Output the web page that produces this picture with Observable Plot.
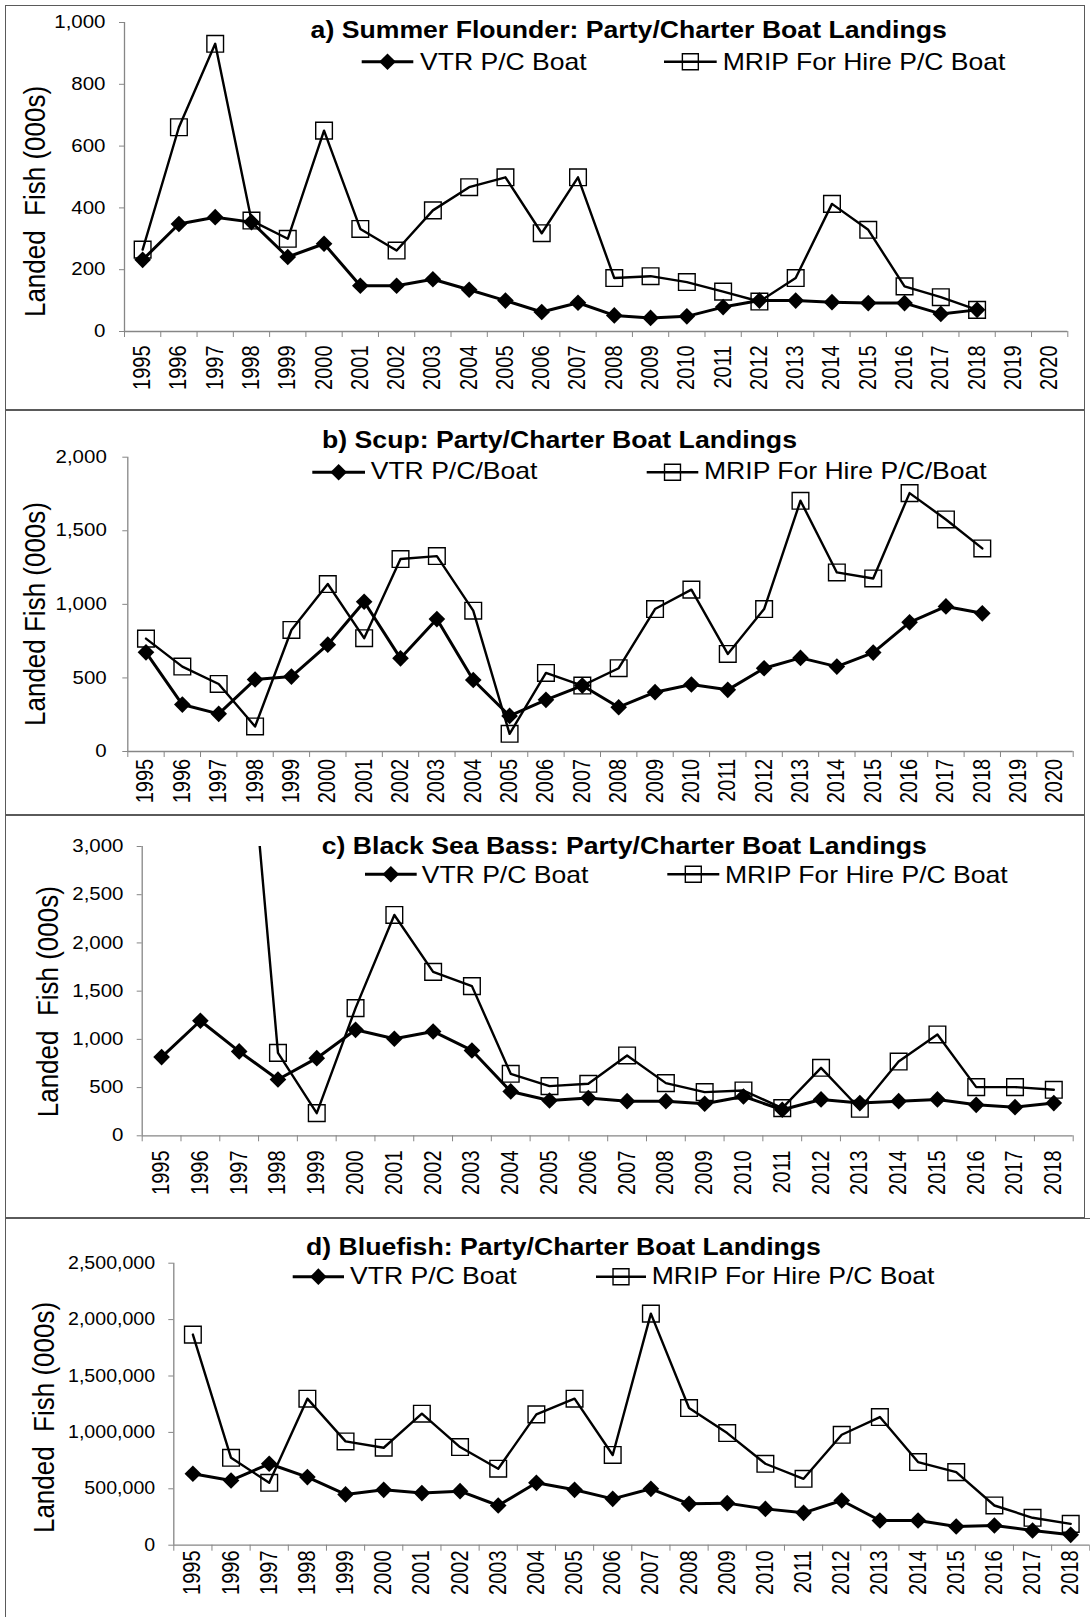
<!DOCTYPE html>
<html>
<head>
<meta charset="utf-8">
<script src="https://cdn.jsdelivr.net/npm/d3@7"></script>
<script src="https://cdn.jsdelivr.net/npm/@observablehq/plot@0.6"></script>
<style>
  body { margin: 0; background: #fff; }
  #root { position: relative; width: 1090px; height: 1617px; overflow: hidden; background: #fff; }
  .box { position: absolute; border: 1.5px solid #5a5a5a; box-sizing: border-box; }
  .pl { position: absolute; left: 0; }
  .pl svg { display: block; }
</style>
</head>
<body>
<div id="root"></div>
<script>
const FONT = "'Liberation Sans', Arial, Helvetica, sans-serif";
const AX = "#868686";

// ---- categories ----
const yearsAB = [1995,1996,1997,1998,1999,2000,2001,2002,2003,2004,2005,2006,2007,2008,2009,2010,2011,2012,2013,2014,2015,2016,2017,2018,2019,2020];
const yearsCD = [1995,1996,1997,1998,1999,2000,2001,2002,2003,2004,2005,2006,2007,2008,2009,2010,2011,2012,2013,2014,2015,2016,2017,2018];

// ---- a) Summer Flounder (000s) ----
const flounderVTR  = [232,348,370,354,241,284,148,148,169,135,100,63,93,52,44,49,79,100,100,95,92,92,57,70];
const flounderMRIP = [265,661,931,359,300,650,332,262,392,467,499,318,499,173,179,160,129,97,173,413,329,146,111,70];

// ---- b) Scup (000s) ----
const scupVTR  = [674,319,256,489,509,726,1018,633,900,486,242,351,448,301,403,455,419,566,636,577,672,878,986,939];
const scupMRIP = [767,577,459,170,826,1138,770,1308,1328,957,120,534,448,566,968,1100,663,968,1704,1217,1176,1756,1577,1380];

// ---- c) Black Sea Bass (000s) ----
const bassVTR  = [816,1193,875,584,805,1099,1006,1082,885,460,366,391,359,359,332,408,270,377,339,359,377,321,297,339];
const bassMRIP = [null,null,5420,860,235,1324,2290,1700,1552,643,515,539,833,546,453,470,287,705,280,770,1051,505,505,477];

// ---- d) Bluefish ----
const blueVTR  = [633000,574000,722000,604000,450000,491000,462000,479000,352000,553000,491000,411000,500000,367000,373000,322000,287000,396000,219000,219000,166000,175000,130000,92000];
const blueMRIP = [1867000,775000,553000,1299000,920000,864000,1166000,870000,678000,1160000,1299000,800000,2053000,1216000,994000,722000,589000,979000,1136000,737000,648000,352000,243000,189000];

// ---- tick values ----
const yTicksA = [0,200,400,600,800,1000];
const yTicksB = [0,500,1000,1500,2000];
const yTicksC = [0,500,1000,1500,2000,2500,3000];
const yTicksD = [0,500000,1000000,1500000,2000000,2500000];

// ---- texts ----
const titles = [
  "a) Summer Flounder: Party/Charter Boat Landings",
  "b) Scup: Party/Charter Boat Landings",
  "c) Black Sea Bass: Party/Charter Boat Landings",
  "d) Bluefish: Party/Charter Boat Landings"
];
const vtrNames  = ["VTR P/C Boat", "VTR P/C/Boat", "VTR P/C Boat", "VTR P/C Boat"];
const mripNames = ["MRIP For Hire P/C Boat", "MRIP For Hire P/C/Boat", "MRIP For Hire P/C Boat", "MRIP For Hire P/C Boat"];
const yTitles = ["Landed  Fish (000s)", "Landed Fish (000s)", "Landed  Fish (000s)", "Landed  Fish (000s)"];

// ---- layout ----
const panels = [
  {years: yearsAB, vtr: flounderVTR, mrip: flounderMRIP, yMax: 1000,    yTicks: yTicksA,
   top: 0,    h: 410, ml: 124,   mr: 22.7, mt: 22,   mb: 79,   yPad: 14,   xPad: 14,
   box: [5, 5, 1080, 405],
   title: {cx: 628.7, y: 38.3}, leg: {y: 61.7, base: 70, v: [361.7, 413.3, 420], m: [664, 716.7, 722.7]}, yt: {cx: 35, cy: 201.5}},
  {years: yearsAB, vtr: scupVTR, mrip: scupMRIP, yMax: 2000, yTicks: yTicksB,
   top: 410,  h: 405, ml: 127.3, mr: 17.3, mt: 46.7, mb: 64,   yPad: 16,   xPad: 7.3,
   box: [5, 410, 1080, 405],
   title: {cx: 559.5, y: 448.3}, leg: {y: 472.2, base: 479, v: [312.3, 365, 370.7], m: [646.7, 698.3, 704]}, yt: {cx: 35, cy: 614}},
  {years: yearsCD, vtr: bassVTR, mrip: bassMRIP, yMax: 3000, yTicks: yTicksC,
   top: 815,  h: 403, ml: 141.7, mr: 17.3, mt: 31,   mb: 82.7, yPad: 13.7, xPad: 14.7,
   box: [5, 815, 1080, 403],
   title: {cx: 624.3, y: 854}, leg: {y: 874.3, base: 882.7, v: [365, 416.7, 421.7], m: [667.3, 719.3, 725]}, yt: {cx: 48, cy: 1001.7}},
  {years: yearsCD, vtr: blueVTR, mrip: blueMRIP, yMax: 2500000, yTicks: yTicksD,
   top: 1218, h: 399, ml: 173.3, mr: 0.7,  mt: 44.7, mb: 72.3, yPad: 13.6, xPad: 5.3,
   box: [5, 1218, 1095, 410],
   title: {cx: 563.5, y: 1255}, leg: {y: 1276.7, base: 1284.3, v: [292.7, 344, 350], m: [596, 646, 651.7]}, yt: {cx: 44, cy: 1417.5}}
];

const root = document.getElementById("root");

function stretchLabels(svg, ySx) {
  const sr = svg.getBoundingClientRect();
  const adjust = (sel, s, mode) => svg.querySelectorAll(sel).forEach(t => {
    const r = t.getBoundingClientRect();
    if (!r.width || !t.textContent) return;
    const sx = (mode === "right" ? r.right : (r.left + r.right) / 2) - sr.left;
    const m = t.parentNode.getCTM();
    const px = (sx - m.e) / m.a;
    const old = t.getAttribute("transform") || "";
    t.setAttribute("transform", `translate(${px},0) scale(${s},1) translate(${-px},0) ${old}`);
  });
  adjust('g[aria-label="y-axis tick label"] text', ySx, "right");
  adjust('g[aria-label="x-axis tick label"] text', 1.15, "center");
}

panels.forEach((p, idx) => {
  const box = document.createElement("div");
  box.className = "box";
  Object.assign(box.style, {left: p.box[0] + "px", top: p.box[1] + "px", width: p.box[2] + "px", height: p.box[3] + "px"});
  root.appendChild(box);

  const rows = p.years.slice(0, p.vtr.length).map((year, i) => ({year, vtr: p.vtr[i], mrip: p.mrip[i]}));
  const first = p.years[0], last = p.years[p.years.length - 1];
  const edges = p.years.map(y => y - 0.5).concat([last + 0.5]);

  const chart = Plot.plot({
    width: 1090, height: p.h,
    marginLeft: p.ml, marginRight: p.mr, marginTop: p.mt, marginBottom: p.mb,
    style: {fontFamily: FONT, background: "transparent", color: "black", overflow: "visible"},
    x: {type: "linear", domain: [first - 0.5, last + 0.5], axis: null},
    y: {type: "linear", domain: [0, p.yMax], axis: null},
    marks: [
      Plot.ruleX([first - 0.5], {stroke: AX, strokeWidth: 1.3}),
      Plot.ruleY([0], {stroke: AX, strokeWidth: 1.3}),
      Plot.axisY(p.yTicks, {tickSize: 5, tickPadding: p.yPad, tickFormat: d3.format(","), fontSize: 17.5, stroke: AX, color: "black", label: null}),
      Plot.axisX(edges, {tickSize: 6, tickFormat: () => "", stroke: AX, label: null}),
      Plot.axisX(p.years, {tickSize: 0, tickPadding: p.xPad, tickRotate: -90, tickFormat: d => String(d), fontSize: 20, color: "black", label: null}),
      Plot.line(rows, {x: "year", y: "mrip", stroke: "black", strokeWidth: 2.4, clip: true}),
      Plot.dot(rows, {x: "year", y: "mrip", symbol: "square", r: 9.4, stroke: "black", strokeWidth: 1.4, fill: "none", clip: true}),
      Plot.line(rows, {x: "year", y: "vtr", stroke: "black", strokeWidth: 3}),
      Plot.dot(rows, {x: "year", y: "vtr", symbol: "diamond2", r: 7.5, fill: "black", stroke: "none"})
    ]
  });
  const holder = document.createElement("div");
  holder.className = "pl";
  holder.style.top = p.top + "px";
  holder.appendChild(chart);
  root.appendChild(holder);
  stretchLabels(chart, idx === 3 ? 1.12 : 1.17);
});

// ---- titles, legends and axis titles overlay ----
const ov = d3.select(root).append("svg")
  .attr("width", 1090).attr("height", 1617)
  .style("position", "absolute").style("left", 0).style("top", 0)
  .style("font-family", FONT);

const diamondPath = d3.symbol(d3.symbolDiamond2, Math.PI * 7.5 * 7.5)();
const squarePath = d3.symbol(d3.symbolSquare, Math.PI * 9 * 9)();

panels.forEach((p, i) => {
  ov.append("text")
    .attr("transform", `translate(${p.title.cx},${p.title.y}) scale(1.143,1)`)
    .attr("text-anchor", "middle").attr("font-weight", "bold").attr("font-size", 23.3)
    .attr("fill", "black").text(titles[i]);

  const L = p.leg;
  ov.append("line").attr("x1", L.v[0]).attr("x2", L.v[1]).attr("y1", L.y).attr("y2", L.y)
    .attr("stroke", "black").attr("stroke-width", 3);
  ov.append("path").attr("d", diamondPath)
    .attr("transform", `translate(${(L.v[0] + L.v[1]) / 2},${L.y})`).attr("fill", "black");
  ov.append("text").attr("transform", `translate(${L.v[2]},${L.base}) scale(1.155,1)`)
    .attr("font-size", 23).attr("fill", "black").text(vtrNames[i]);

  ov.append("line").attr("x1", L.m[0]).attr("x2", L.m[1]).attr("y1", L.y).attr("y2", L.y)
    .attr("stroke", "black").attr("stroke-width", 2.4);
  ov.append("path").attr("d", squarePath)
    .attr("transform", `translate(${(L.m[0] + L.m[1]) / 2},${L.y})`)
    .attr("fill", "none").attr("stroke", "black").attr("stroke-width", 1.4);
  ov.append("text").attr("transform", `translate(${L.m[2]},${L.base}) scale(1.155,1)`)
    .attr("font-size", 23).attr("fill", "black").text(mripNames[i]);

  ov.append("text")
    .attr("transform", `translate(${p.yt.cx},${p.yt.cy}) rotate(-90) scale(1,1.12)`)
    .attr("text-anchor", "middle").attr("dy", "0.35em").attr("font-size", 26)
    .style("white-space", "pre").attr("fill", "black").text(yTitles[i]);
});
</script>
</body>
</html>
